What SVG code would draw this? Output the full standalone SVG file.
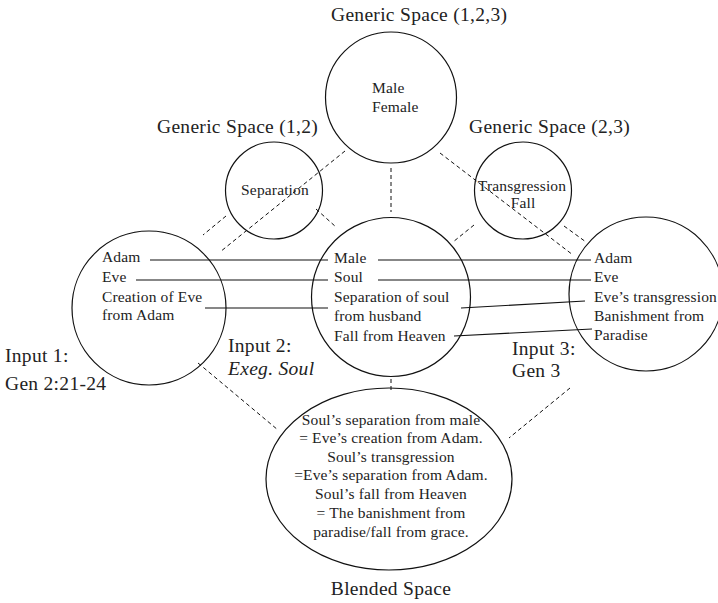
<svg xmlns="http://www.w3.org/2000/svg" width="718" height="603" viewBox="0 0 718 603" font-family="'Liberation Serif', 'Times New Roman', serif">
  <style>
    .ring { fill: none; stroke: #111; stroke-width: 1.2; }
    .dash { fill: none; stroke: #111; stroke-width: 1; stroke-dasharray: 4 3; }
    .link { fill: none; stroke: #111; stroke-width: 1.2; }
    text { font-family: "Liberation Serif", "Times New Roman", serif; fill: #222; }
    .title { font-size: 19.5px; letter-spacing: 0.3px; }
    .item { font-size: 15.5px; letter-spacing: 0.15px; }
    .mid { text-anchor: middle; }
  </style>
  <rect width="718" height="603" fill="#fff"/>

  <!-- dashed mapping lines between spaces -->
  <g id="connectors">
    <line class="dash" x1="391" y1="168" x2="391" y2="212"/>
    <line class="dash" x1="345" y1="151" x2="220" y2="252"/>
    <line class="dash" x1="440" y1="153" x2="573" y2="255"/>
    <line class="dash" x1="226" y1="216" x2="203" y2="235"/>
    <line class="dash" x1="316" y1="209" x2="336" y2="227"/>
    <line class="dash" x1="474" y1="225" x2="453" y2="242"/>
    <line class="dash" x1="564" y1="226" x2="586" y2="242"/>
    <line class="dash" x1="391" y1="379" x2="391" y2="390"/>
    <line class="dash" x1="198" y1="363" x2="278" y2="430"/>
    <line class="dash" x1="570" y1="388" x2="509" y2="438"/>
    <!-- solid cross-space correspondences -->
    <line class="link" x1="150" y1="260" x2="328" y2="260"/>
    <line class="link" x1="378" y1="260" x2="591" y2="260"/>
    <line class="link" x1="136" y1="280" x2="328" y2="280"/>
    <line class="link" x1="378" y1="280" x2="591" y2="280"/>
    <line class="link" x1="205" y1="308" x2="328" y2="308"/>
    <line class="link" x1="461" y1="308" x2="585" y2="301"/>
    <line class="link" x1="454" y1="336" x2="592" y2="329"/>
  </g>

  <g id="generic-123">
    <circle class="ring" cx="391" cy="97.5" r="65.5"/>
    <text class="title" x="331" y="21">Generic Space (1,2,3)</text>
    <text class="item" x="372" y="93">Male</text>
    <text class="item" x="372" y="112">Female</text>
  </g>

  <g id="generic-12">
    <circle class="ring" cx="274" cy="190.5" r="48.5"/>
    <text class="title" x="157" y="133">Generic Space (1,2)</text>
    <text class="item mid" x="275" y="195">Separation</text>
  </g>

  <g id="generic-23">
    <circle class="ring" cx="523" cy="190.5" r="48.5"/>
    <text class="title" x="469" y="133">Generic Space (2,3)</text>
    <text class="item mid" x="522" y="191">Transgression</text>
    <text class="item mid" x="523" y="208">Fall</text>
  </g>

  <g id="input-1">
    <circle class="ring" cx="149" cy="308" r="77"/>
    <text class="item" x="102" y="262">Adam</text>
    <text class="item" x="102" y="282">Eve</text>
    <text class="item" x="102" y="302">Creation of Eve</text>
    <text class="item" x="102" y="320">from Adam</text>
    <text class="title" x="5" y="362">Input 1:</text>
    <text class="title" x="5" y="390">Gen 2:21-24</text>
  </g>

  <g id="input-2">
    <circle class="ring" cx="391" cy="297" r="79.5"/>
    <text class="item" x="334" y="263">Male</text>
    <text class="item" x="334" y="282">Soul</text>
    <text class="item" x="334" y="302">Separation of soul</text>
    <text class="item" x="334" y="321">from husband</text>
    <text class="item" x="334" y="341">Fall from Heaven</text>
    <text class="title" x="228" y="352">Input 2:</text>
    <text class="title" x="228" y="375" font-style="italic">Exeg. Soul</text>
  </g>

  <g id="input-3">
    <circle class="ring" cx="646" cy="294" r="77"/>
    <text class="item" x="594" y="263">Adam</text>
    <text class="item" x="594" y="282">Eve</text>
    <text class="item" x="594" y="302">Eve’s transgression</text>
    <text class="item" x="594" y="321">Banishment from</text>
    <text class="item" x="594" y="340">Paradise</text>
    <text class="title" x="512" y="355">Input 3:</text>
    <text class="title" x="512" y="377">Gen 3</text>
  </g>

  <g id="blended">
    <ellipse class="ring" cx="389" cy="479" rx="123" ry="91"/>
    <text class="item mid" x="391" y="425">Soul’s separation from male</text>
    <text class="item mid" x="391" y="443">= Eve’s creation from Adam.</text>
    <text class="item mid" x="391" y="462">Soul’s transgression</text>
    <text class="item mid" x="391" y="480">=Eve’s separation from Adam.</text>
    <text class="item mid" x="391" y="499">Soul’s fall from Heaven</text>
    <text class="item mid" x="391" y="518">= The banishment from</text>
    <text class="item mid" x="391" y="537">paradise/fall from grace.</text>
    <text class="title mid" x="391" y="595">Blended Space</text>
  </g>
</svg>
